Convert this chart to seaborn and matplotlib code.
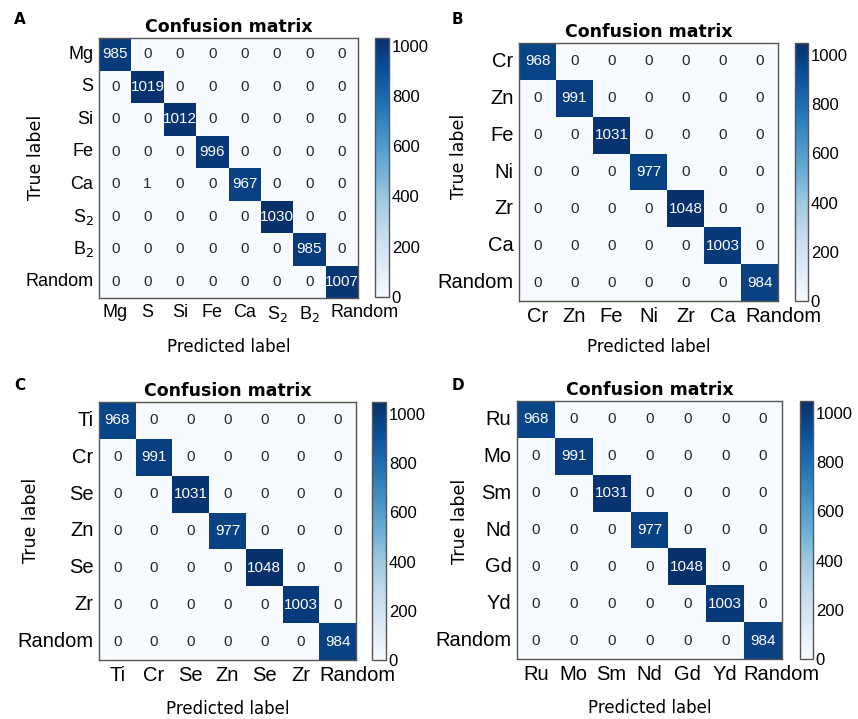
import matplotlib
matplotlib.use("Agg")
import matplotlib.pyplot as plt
import matplotlib.transforms as mtransforms
import numpy as np
import seaborn as sns

LABELS_A = ["Mg", "S", "Si", "Fe", "Ca", "S$_2$", "B$_2$", "Random"]
CONF_A = [
    [985, 0, 0, 0, 0, 0, 0, 0],
    [0, 1019, 0, 0, 0, 0, 0, 0],
    [0, 0, 1012, 0, 0, 0, 0, 0],
    [0, 0, 0, 996, 0, 0, 0, 0],
    [0, 1, 0, 0, 967, 0, 0, 0],
    [0, 0, 0, 0, 0, 1030, 0, 0],
    [0, 0, 0, 0, 0, 0, 985, 0],
    [0, 0, 0, 0, 0, 0, 0, 1007],
]

LABELS_B = ["Cr", "Zn", "Fe", "Ni", "Zr", "Ca", "Random"]
CONF_B = [
    [968, 0, 0, 0, 0, 0, 0],
    [0, 991, 0, 0, 0, 0, 0],
    [0, 0, 1031, 0, 0, 0, 0],
    [0, 0, 0, 977, 0, 0, 0],
    [0, 0, 0, 0, 1048, 0, 0],
    [0, 0, 0, 0, 0, 1003, 0],
    [0, 0, 0, 0, 0, 0, 984],
]

LABELS_C = ["Ti", "Cr", "Se", "Zn", "Se", "Zr", "Random"]
CONF_C = [
    [968, 0, 0, 0, 0, 0, 0],
    [0, 991, 0, 0, 0, 0, 0],
    [0, 0, 1031, 0, 0, 0, 0],
    [0, 0, 0, 977, 0, 0, 0],
    [0, 0, 0, 0, 1048, 0, 0],
    [0, 0, 0, 0, 0, 1003, 0],
    [0, 0, 0, 0, 0, 0, 984],
]

LABELS_D = ["Ru", "Mo", "Sm", "Nd", "Gd", "Yd", "Random"]
CONF_D = [
    [968, 0, 0, 0, 0, 0, 0],
    [0, 991, 0, 0, 0, 0, 0],
    [0, 0, 1031, 0, 0, 0, 0],
    [0, 0, 0, 977, 0, 0, 0],
    [0, 0, 0, 0, 1048, 0, 0],
    [0, 0, 0, 0, 0, 1003, 0],
    [0, 0, 0, 0, 0, 0, 984],
]

CBAR_TICKS = [0, 200, 400, 600, 800, 1000]

W, H = 858, 719
ARIAL = "Liberation Sans"
VERDANA = "DejaVu Sans"


def px_axes(fig, left, right, top, bottom):
    return fig.add_axes([left / W, (H - bottom) / H, (right - left) / W, (bottom - top) / H])


def draw_panel(fig, letter, letter_xy, labels, conf, hm_box, cb_box, tick_fs,
               ylab_xy, xlab_y, last_shift):
    ax = px_axes(fig, *hm_box)
    cax = px_axes(fig, *cb_box)
    data = np.array(conf)
    sns.heatmap(
        data,
        ax=ax,
        cbar_ax=cax,
        cmap="Blues",
        vmin=0,
        annot=True,
        fmt="d",
        annot_kws={"fontsize": 11, "family": ARIAL},
        xticklabels=labels,
        yticklabels=labels,
    )
    for side in ["top", "bottom", "left", "right"]:
        ax.spines[side].set_visible(True)
        ax.spines[side].set_color("#555555")
        ax.spines[side].set_linewidth(1.0)
    ax.tick_params(length=0, pad=4)
    ax.set_xticklabels(labels, rotation=0, fontsize=tick_fs, family=ARIAL)
    ax.set_yticklabels(labels, rotation=0, fontsize=tick_fs, family=ARIAL)
    # last x label sits a bit to the right in the original figure
    last = ax.get_xticklabels()[-1]
    last.set_transform(last.get_transform() + mtransforms.ScaledTranslation(
        last_shift / 100, 0, fig.dpi_scale_trans))

    ax.set_title("Confusion matrix", fontsize=12.5, fontweight="bold", family=VERDANA, pad=4)
    ax.set_xlabel("Predicted label", fontsize=12, family=VERDANA)
    ax.set_ylabel("True label", fontsize=12.5, family=VERDANA)
    ax.xaxis.set_label_coords(0.5, xlab_y)
    ax.yaxis.set_label_coords(*ylab_xy)

    cax.set_yticks(CBAR_TICKS)
    cax.set_yticklabels([str(t) for t in CBAR_TICKS], fontsize=12, family=ARIAL)
    cax.tick_params(length=0, pad=2)
    cbar = ax.collections[0].colorbar
    cbar.outline.set_visible(True)
    cbar.outline.set_edgecolor("#555555")
    cbar.outline.set_linewidth(1.0)

    fig.text(letter_xy[0] / W, 1 - letter_xy[1] / H, letter, fontsize=11,
             fontweight="bold", ha="center", va="center")


sns.set_style("white")
plt.rcParams.update({
    "text.color": "black",
    "axes.labelcolor": "black",
    "xtick.color": "black",
    "ytick.color": "black",
})
fig = plt.figure(figsize=(W / 100, H / 100), dpi=100)

draw_panel(fig, "A", (20, 20), LABELS_A, CONF_A, (99, 358, 38, 298), (375, 389, 38, 297),
           13, (-0.21, 0.54), -0.155, 23)
draw_panel(fig, "B", (457, 20), LABELS_B, CONF_B, (519, 778, 43, 301), (795, 808, 43, 301),
           14.5, (-0.197, 0.56), -0.145, 24)
draw_panel(fig, "C", (20, 385), LABELS_C, CONF_C, (99, 356, 402, 660), (372, 386, 402, 660),
           14.5, (-0.23, 0.54), -0.155, 20)
draw_panel(fig, "D", (458, 386), LABELS_D, CONF_D, (517, 782, 401, 659), (800, 813, 401, 659),
           14.5, (-0.18, 0.535), -0.155, 18)

fig.savefig("out.png", dpi=100)
